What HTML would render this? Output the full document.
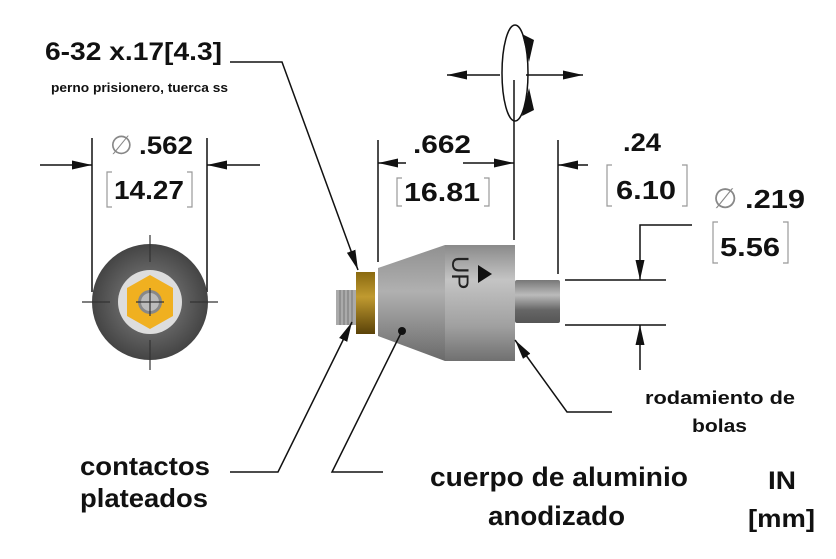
<!DOCTYPE html>
<html><head><meta charset="utf-8"><style>
html,body{margin:0;padding:0;background:#fff;}
svg{display:block;}
text{font-family:"Liberation Sans",sans-serif;font-weight:bold;fill:#111;}
</style></head><body>
<svg width="836" height="559" viewBox="0 0 836 559" xmlns="http://www.w3.org/2000/svg">
<defs>
<marker id="ah2" viewBox="0 0 10 10" refX="10" refY="5" markerWidth="20" markerHeight="10" orient="auto" markerUnits="userSpaceOnUse" preserveAspectRatio="none">
<path d="M0,0.5 L10,5 L0,9.5 z" fill="#111"/></marker>
<linearGradient id="cyl" x1="0" y1="0" x2="0" y2="1">
<stop offset="0" stop-color="#8a8a8a"/><stop offset="0.3" stop-color="#c4c4c4"/><stop offset="0.7" stop-color="#a0a0a0"/><stop offset="1" stop-color="#707070"/></linearGradient>
<linearGradient id="cone" x1="0" y1="0" x2="0" y2="1">
<stop offset="0" stop-color="#909090"/><stop offset="0.4" stop-color="#b0b0b0"/><stop offset="1" stop-color="#6a6a6a"/></linearGradient>
<linearGradient id="shaft" x1="0" y1="0" x2="0" y2="1">
<stop offset="0" stop-color="#777"/><stop offset="0.35" stop-color="#bbb"/><stop offset="0.7" stop-color="#666"/><stop offset="1" stop-color="#555"/></linearGradient>
<linearGradient id="brass" x1="0" y1="0" x2="0" y2="1">
<stop offset="0" stop-color="#8a6a10"/><stop offset="0.4" stop-color="#c09a30"/><stop offset="1" stop-color="#5a4208"/></linearGradient>
<radialGradient id="disc" cx="0.5" cy="0.5" r="0.5">
<stop offset="0.5" stop-color="#666"/><stop offset="1" stop-color="#444"/></radialGradient>
</defs>

<text x="45" y="60" font-size="25" textLength="177" lengthAdjust="spacingAndGlyphs">6-32 x.17[4.3]</text>
<text x="51" y="92" font-size="13" textLength="177" lengthAdjust="spacingAndGlyphs">perno prisionero, tuerca ss</text>
<polyline points="230,62 282,62 358,270" fill="none" stroke="#111" stroke-width="1.5" marker-end="url(#ah2)"/>

<line x1="92" y1="138" x2="92" y2="292" stroke="#111" stroke-width="1.5"/>
<line x1="207" y1="138" x2="207" y2="292" stroke="#111" stroke-width="1.5"/>
<line x1="40" y1="165" x2="92" y2="165" stroke="#111" stroke-width="1.5" marker-end="url(#ah2)"/>
<line x1="260" y1="165" x2="207" y2="165" stroke="#111" stroke-width="1.5" marker-end="url(#ah2)"/>
<text x="110" y="154" font-size="26" style="font-weight:normal;fill:#888">∅</text>
<text x="139" y="154" font-size="25" textLength="54" lengthAdjust="spacingAndGlyphs">.562</text>
<path d="M112,172 h-5 v35 h5 M187,172 h5 v35 h-5" fill="none" stroke="#999" stroke-width="1.2"/>
<text x="114" y="199" font-size="26" textLength="70" lengthAdjust="spacingAndGlyphs">14.27</text>

<circle cx="150" cy="302" r="58" fill="url(#disc)"/>
<circle cx="150" cy="302" r="32" fill="#ddd"/>
<polygon points="150,275 173,288 173,316 150,329 127,316 127,288" fill="#f0b020"/>
<circle cx="150" cy="302" r="12" fill="#888"/>
<circle cx="150" cy="302" r="9" fill="#bbb"/>
<g stroke="#333" stroke-width="1.2">
<line x1="150" y1="235" x2="150" y2="262"/><line x1="150" y1="340" x2="150" y2="370"/>
<line x1="82" y1="302" x2="110" y2="302"/><line x1="190" y1="302" x2="218" y2="302"/>
<line x1="150" y1="288" x2="150" y2="316"/><line x1="136" y1="302" x2="164" y2="302"/>
</g>

<rect x="336" y="290" width="20" height="35" fill="#aaa"/>
<g stroke="#777" stroke-width="1"><line x1="340" y1="290" x2="340" y2="325"/><line x1="344" y1="290" x2="344" y2="325"/><line x1="348" y1="290" x2="348" y2="325"/><line x1="352" y1="290" x2="352" y2="325"/></g>
<rect x="356" y="272" width="19" height="62" fill="url(#brass)"/>
<polygon points="378,268 445,245 445,361 378,336" fill="url(#cone)"/>
<rect x="445" y="245" width="70" height="116" fill="url(#cyl)"/>
<rect x="515" y="280" width="45" height="43" fill="url(#shaft)" rx="2"/>
<text x="0" y="0" font-size="24" transform="translate(452,256) rotate(90)" style="font-weight:normal;fill:#222">UP</text>
<polygon points="478,265 492,274 478,283" fill="#111"/>
<circle cx="402" cy="331" r="4" fill="#111"/>

<ellipse cx="515" cy="73" rx="13" ry="48" fill="none" stroke="#111" stroke-width="1.5"/>
<polygon points="522,34 529,62 534,40" fill="#111"/>
<polygon points="522,116 529,88 534,110" fill="#111"/>
<line x1="500" y1="75" x2="447" y2="75" stroke="#111" stroke-width="1.5" marker-end="url(#ah2)"/>
<line x1="526" y1="75" x2="583" y2="75" stroke="#111" stroke-width="1.5" marker-end="url(#ah2)"/>

<line x1="378" y1="140" x2="378" y2="262" stroke="#111" stroke-width="1.5"/>
<line x1="514" y1="80" x2="514" y2="240" stroke="#111" stroke-width="1.5"/>
<line x1="406" y1="163" x2="378" y2="163" stroke="#111" stroke-width="1.5" marker-end="url(#ah2)"/>
<line x1="463" y1="163" x2="514" y2="163" stroke="#111" stroke-width="1.5" marker-end="url(#ah2)"/>
<text x="413" y="153" font-size="25" textLength="58" lengthAdjust="spacingAndGlyphs">.662</text>
<path d="M402,178 h-5 v28 h5 M484,178 h5 v28 h-5" fill="none" stroke="#999" stroke-width="1.2"/>
<text x="404" y="201" font-size="26" textLength="76" lengthAdjust="spacingAndGlyphs">16.81</text>

<line x1="558" y1="140" x2="558" y2="274" stroke="#111" stroke-width="1.5"/>
<line x1="588" y1="165" x2="558" y2="165" stroke="#111" stroke-width="1.5" marker-end="url(#ah2)"/>
<text x="623" y="151" font-size="25" textLength="38" lengthAdjust="spacingAndGlyphs">.24</text>
<path d="M612,165 h-5 v41 h5 M682,165 h5 v41 h-5" fill="none" stroke="#999" stroke-width="1.2"/>
<text x="616" y="199" font-size="26" textLength="60" lengthAdjust="spacingAndGlyphs">6.10</text>

<text x="713" y="208" font-size="28" style="font-weight:normal;fill:#888">∅</text>
<text x="745" y="208" font-size="26" textLength="60" lengthAdjust="spacingAndGlyphs">.219</text>
<path d="M718,222 h-5 v41 h5 M783,222 h5 v41 h-5" fill="none" stroke="#999" stroke-width="1.2"/>
<text x="720" y="256" font-size="26" textLength="60" lengthAdjust="spacingAndGlyphs">5.56</text>
<line x1="565" y1="280" x2="666" y2="280" stroke="#111" stroke-width="1.5"/>
<line x1="565" y1="325" x2="666" y2="325" stroke="#111" stroke-width="1.5"/>
<polyline points="692,225 640,225 640,280" fill="none" stroke="#111" stroke-width="1.5" marker-end="url(#ah2)"/>
<line x1="640" y1="370" x2="640" y2="325" stroke="#111" stroke-width="1.5" marker-end="url(#ah2)"/>

<polyline points="230,472 278,472 352,322" fill="none" stroke="#111" stroke-width="1.5" marker-end="url(#ah2)"/>
<polyline points="383,472 332,472 402,331" fill="none" stroke="#111" stroke-width="1.5"/>
<polyline points="612,412 567,412 515,340" fill="none" stroke="#111" stroke-width="1.5" marker-end="url(#ah2)"/>

<text x="80" y="475" font-size="26" textLength="130" lengthAdjust="spacingAndGlyphs">contactos</text>
<text x="80" y="507" font-size="26" textLength="128" lengthAdjust="spacingAndGlyphs">plateados</text>
<text x="430" y="486" font-size="27" textLength="258" lengthAdjust="spacingAndGlyphs">cuerpo de aluminio</text>
<text x="488" y="525" font-size="27" textLength="137" lengthAdjust="spacingAndGlyphs">anodizado</text>
<text x="645" y="404" font-size="18" textLength="150" lengthAdjust="spacingAndGlyphs">rodamiento de</text>
<text x="692" y="432" font-size="18" textLength="55" lengthAdjust="spacingAndGlyphs">bolas</text>
<text x="768" y="489" font-size="25" textLength="28" lengthAdjust="spacingAndGlyphs">IN</text>
<text x="748" y="527" font-size="25" textLength="67" lengthAdjust="spacingAndGlyphs">[mm]</text>
</svg>
</body></html>
